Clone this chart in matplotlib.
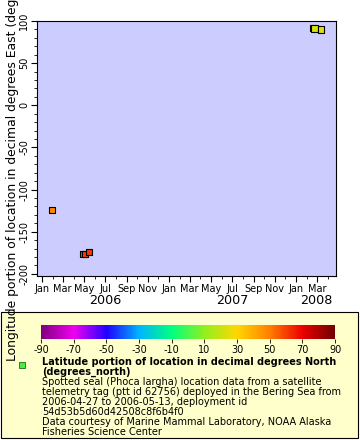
import matplotlib
matplotlib.use("Agg")
import matplotlib.pyplot as plt
import matplotlib.dates as mdates
from matplotlib.colors import LinearSegmentedColormap, Normalize
from matplotlib.patches import Rectangle
import matplotlib.cm as cm
import datetime as dt

plt.rcParams["axes.unicode_minus"] = False

# data
times = [dt.datetime(2006, 1, 29), dt.datetime(2006, 4, 30), dt.datetime(2006, 5, 4),
         dt.datetime(2006, 5, 15), dt.datetime(2008, 2, 19), dt.datetime(2008, 2, 23),
         dt.datetime(2008, 3, 13)]
lon = [-124.5, -176.0, -176.0, -174.0, 91.5, 91.0, 90.0]
lat = [48.0, 58.0, 60.0, 61.0, 22.0, 22.0, 23.0]

cbar_ticks = [-90, -70, -50, -30, -10, 10, 30, 50, 70, 90]

palette = [(-90, "#800080"), (-70, "#f000f0"), (-50, "#2000ff"), (-30, "#00b4ff"),
           (-10, "#00ff80"), (10, "#90f020"), (30, "#ffd700"), (50, "#ff8000"),
           (70, "#ee0000"), (90, "#700000")]
cmap = LinearSegmentedColormap.from_list(
    "rainbow2", [((v + 90) / 180.0, c) for v, c in palette])
norm = Normalize(-90, 90)

W, H = 360, 440
fig = plt.figure(figsize=(3.6, 4.4), dpi=100)
fs = 7.0


def fx(px):
    return px / W


def fy(py):
    return 1 - py / H


# legend box (behind the colour bar)
fig.patches.append(Rectangle((fx(1), fy(438)), fx(357), 126 / H, transform=fig.transFigure,
                             facecolor="#ffffcc", edgecolor="black", linewidth=0.8, zorder=-1))

ax = fig.add_axes([fx(37), fy(276), fx(299), (276 - 21) / H])
ax.set_facecolor("#ccccff")
ax.scatter(times, lon, c=lat, cmap=cmap, norm=norm, marker="s", s=20,
           edgecolors="black", linewidths=0.8, zorder=3)

ax.set_xlim(dt.datetime(2005, 12, 17), dt.datetime(2008, 4, 25))
ax.set_ylim(-202.5, 100)

ax.xaxis.set_major_locator(mdates.MonthLocator(bymonth=[1, 3, 5, 7, 9, 11]))
ax.xaxis.set_minor_locator(mdates.MonthLocator())
ax.xaxis.set_major_formatter(mdates.DateFormatter("%b"))
ax.set_yticks([-200, -150, -100, -50, 0, 50, 100])
ax.yaxis.set_minor_locator(matplotlib.ticker.MultipleLocator(10))
ax.tick_params(axis="both", which="major", length=4, width=0.8, labelsize=fs, pad=1.5)
ax.tick_params(axis="both", which="minor", length=2, width=0.6)
for lab in ax.get_yticklabels():
    lab.set_rotation(90)
    lab.set_va("center")
for sp in ax.spines.values():
    sp.set_linewidth(0.8)

# year labels under the month labels
tr = matplotlib.transforms.blended_transform_factory(ax.transData, fig.transFigure)
right = ax.get_xlim()[1]
for yr in [2006, 2007, 2008]:
    a = mdates.date2num(dt.datetime(yr, 1, 1))
    b = min(mdates.date2num(dt.datetime(yr + 1, 1, 1)), right)
    ax.text((a + b) / 2, fy(301), str(yr), transform=tr, ha="center", va="center",
            fontsize=9.2)

fig.text(fx(12.5), fy(148), "Longitude portion of location in decimal degrees East (degrees_east)",
         rotation=90, ha="center", va="center", fontsize=8.9)

# colour bar
cax = fig.add_axes([fx(41), fy(339), fx(294), 14 / H])
cb = fig.colorbar(cm.ScalarMappable(norm=norm, cmap=cmap), cax=cax, orientation="horizontal",
                  ticks=cbar_ticks)
cb.outline.set_visible(False)
cax.tick_params(length=3, width=0.6, labelsize=7.0, pad=1)

# legend entry
fig.patches.append(Rectangle((fx(19), fy(368)), fx(6), 6 / H, transform=fig.transFigure,
                             facecolor="#44ee44", edgecolor="#226622", linewidth=0.6))
fig.text(fx(42), fy(357), "Latitude portion of location in decimal degrees North\n(degrees_north)",
         fontsize=fs, fontweight="bold", va="top", ha="left", linespacing=0.92)
fig.text(fx(42), fy(376.5),
         "Spotted seal (Phoca largha) location data from a satellite\n"
         "telemetry tag (ptt id 62756) deployed in the Bering Sea from\n"
         "2006-04-27 to 2006-05-13, deployment id\n"
         "54d53b5d60d42508c8f6b4f0\n"
         "Data courtesy of Marine Mammal Laboratory, NOAA Alaska\n"
         "Fisheries Science Center",
         fontsize=fs, va="top", ha="left", linespacing=1.0)

fig.savefig("out.png", dpi=100)
